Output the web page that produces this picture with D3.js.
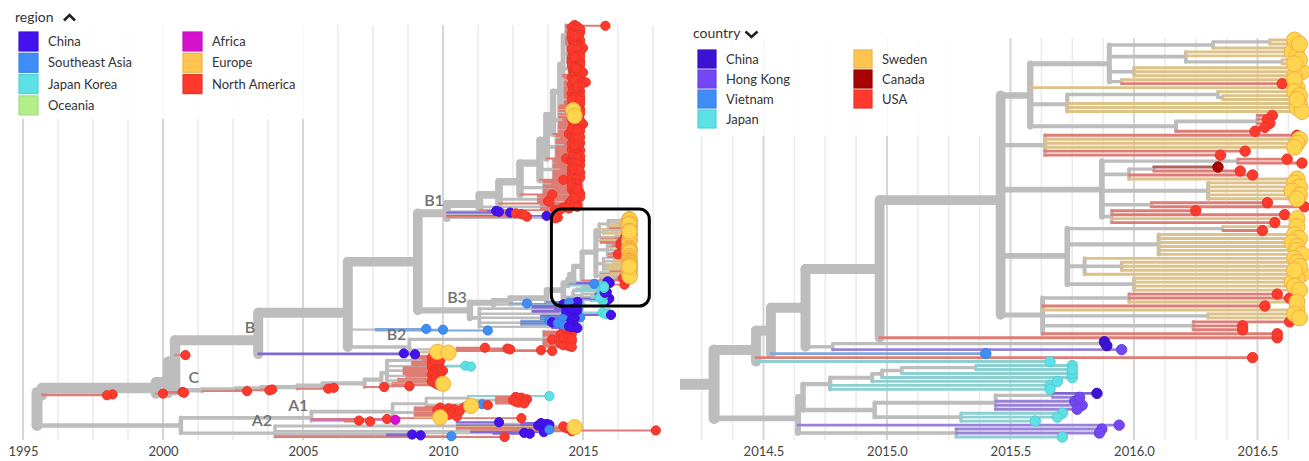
<!DOCTYPE html>
<html>
<head>
<meta charset="utf-8">
<title>Phylogeny by region / country</title>
<script src="https://cdn.jsdelivr.net/npm/d3@7/dist/d3.min.js"></script>
<style>
  html, body { margin: 0; padding: 0; background: #fff; }
  svg { display: block; font-family: Lato, "Open Sans", sans-serif; }
</style>
</head>
<body>
<div id="chart"></div>
<script>
// ---------- data ----------
const leftTicks = [1995, 2000, 2005, 2010, 2015];
const rightTicks = [2014.5, 2015.0, 2015.5, 2016.0, 2016.5];

const regions = ["China", "Southeast Asia", "Japan Korea", "Oceania", "Africa", "Europe", "North America"];
const regionColors = ["#4412EE", "#3F8EF7", "#5CE2E6", "#B2EE8A", "#D412CD", "#FFC54E", "#FF3A2D"];
const countries = ["China", "Hong Kong", "Vietnam", "Japan", "Sweden", "Canada", "USA"];
const countryColors = ["#3C12D4", "#7447F5", "#3F8EF7", "#5CE2E6", "#FFC54E", "#A80303", "#FF3A2D"];

// tip code -> [country, region]
const tipCodes = {
  C: ["China", "China"], H: ["Hong Kong", "China"], V: ["Vietnam", "Southeast Asia"],
  J: ["Japan", "Japan Korea"], S: ["Sweden", "Europe"], E: ["Europe", "Europe"],
  U: ["USA", "North America"], K: ["Canada", "North America"], A: ["Africa", "Africa"]
};
const cladeNames = ["A1", "A2", "B", "B1", "B2", "B3", "C"];

// trees written as (children)date, tips as <code><date>, [label] after a node
// --- boxed clade, shown zoomed on the right ---
const sweA1 = `((((S2016.65,S2016.67)2016.55,S2016.66)2016.32,(S2016.64,S2016.66,(S2016.67,S2016.65)2016.6)2016.21,(S2016.66,S2016.68,S2016.65)2016.0,(S2016.65,U2016.6)2015.95)2015.9,
  S2016.66,((S2016.65,(S2016.67,S2016.66)2016.36)2016.34,S2016.67,S2016.66,S2016.68)2015.73,
  ((U2016.56,U2016.54,U2016.55,U2016.53)2016.5,U2016.49)2016.17)2015.58`;
const sweA2 = `(U2016.66,S2016.67,S2016.66,S2016.65,U2016.45,U2016.35)2015.64`;
const sweA3 = `((U2016.62,U2016.68)2016.42,((K2016.34,U2016.43)2016.08,U2016.48,S2016.66)2015.98,
  (S2016.65,S2016.67,S2016.64,S2016.67,S2016.66)2016.3,(U2016.54,U2016.69)2016.07,
  (U2016.25,U2016.61,S2016.66,U2016.57)2015.91)2015.87`;
const sweA4 = `((S2016.66,U2016.52)2016.36,(S2016.65,S2016.67,S2016.64,S2016.66,S2016.66,S2016.68)2016.1,
  (S2016.65,(S2016.66,S2016.67,S2016.65)2015.95,S2016.68)2015.8,(S2016.66,S2016.64,S2016.65,S2016.67)2016.0)2015.73`;
const sweA5 = `((U2016.58,U2016.63,S2016.66)2015.98,U2016.53,S2016.66,(S2016.65,S2016.67)2016.3,(U2016.63,U2016.44,U2016.44)2016.24,U2016.58)2015.63`;
const boxUpper = `(${sweA1},${sweA2},${sweA3},${sweA4},${sweA5})2015.46`;
const boxAsia = `(((((((J2015.75,J2015.75)2015.36,J2015.75)2015.06,J2015.75)2014.98,J2015.69)2014.94,J2015.66,J2015.66)2014.77,
  (((C2015.85,H2015.78)2015.67,H2015.76,H2015.79,H2015.77)2015.44,(J2015.71,J2015.69,J2015.6)2015.3)2014.95)2014.66,
  H2015.94,(H2015.87,H2015.86,J2015.71)2015.28)2014.64`;
const boxClade = `(((((${boxUpper},U2016.58)2014.97,((C2015.88,C2015.89)2015.87,H2015.95)2014.78)2014.67,V2015.4)2014.53,U2016.48,J2015.66)2014.47,${boxAsia})2014.3[zoom]`;

// --- B1 ---
const b1Top = `((U2014.7,U2015.8,U2014.8,U2014.6,(U2014.7,U2014.9,U2014.75)2014.55,U2014.8,U2014.65,U2014.9,(U2014.7,U2014.6,U2014.8,U2014.7)2014.5,U2014.85,U2014.7,U2014.6,U2014.75,U2014.8,U2014.9,U2014.7,U2014.65,U2014.8,U2014.7,U2014.9)2014.4,
  (U2014.8,U2014.7,U2014.9,U2015.0,(U2014.6,U2014.8)2014.55,U2014.7,U2014.75,U2014.9,U2014.8,U2014.65,U2014.7,(U2014.8,U2014.9,U2014.7)2014.55,U2014.6,U2014.85,U2014.7,U2014.8,U2014.9,U2014.75,U2014.6)2014.45,
  (U2014.8,U2014.9,U2014.7,U2014.6,U2014.8,(U2014.7,U2014.75)2014.6,U2014.9,U2014.8,U2014.65,U2014.7,U2015.0,U2014.8,U2014.7)2014.5,U2014.7,U2014.8,U2014.75)2014.29`;
const b1G7 = `(U2014.6,U2014.9,(U2014.7,U2014.8,U2014.7)2014.5,U2014.75,U2015.1,U2014.8,U2014.7,U2014.6,(U2014.9,U2014.8)2014.6,U2014.7,U2014.85,U2014.65,U2014.8,U2014.7,U2014.9,U2014.75,U2014.8,U2014.6,U2014.7,U2014.8,U2014.9,U2014.65,
  U2014.7,(U2014.8,U2014.6,U2014.9)2014.55,U2014.75,U2014.8,U2014.7,U2014.9,U2014.65)2014.35`;
const b1G6 = `(U2014.7,U2014.8,U2014.6,U2014.9,E2014.65,U2014.7,(U2014.8,U2014.75,U2014.9)2014.4,U2014.6,U2014.7,E2014.7,U2014.8,U2014.85,(U2014.7,U2014.6,U2014.8,U2014.9)2014.3,U2014.75,U2014.7,U2014.8,U2015.0,U2014.65,U2014.7,U2014.9,
  U2014.8,U2014.7,(U2014.6,U2014.8)2014.45,U2014.9,U2014.7,U2014.75,U2014.8)2014.15`;
const b1G5 = `(U2014.8,U2014.6,U2014.7,(U2014.9,U2014.7,U2014.8)2014.2,U2014.75,U2014.65,U2014.8,U2014.7,U2014.9,(U2014.6,U2014.8,U2014.7)2014.35,U2014.85,U2014.75,U2014.7,U2014.8,U2014.6,U2014.9,U2014.7,U2014.8,U2014.75,
  U2014.7,U2014.8,U2014.65,U2014.9,U2014.7,U2014.8)2014.05`;
const b1G4 = `(U2014.7,U2014.9,U2014.8,U2014.6,(U2014.7,U2014.8)2014.1,U2014.75,U2014.9,U2014.65,U2014.7,U2014.8,(U2014.6,U2014.7,U2014.85)2014.2,U2014.8,U2014.7,U2014.9,U2014.6,U2014.75,U2014.8,
  U2014.8,U2014.7,U2014.9,U2014.6,U2014.75)2013.95`;
const b1G3 = `(U2014.8,U2014.6,U2014.7,(U2014.7,U2014.8,U2014.6)2013.9,U2014.75,U2014.8,U2014.7,(U2014.7,U2014.8)2014.0,U2014.6,U2014.7,U2014.85,U2014.8,U2014.7,U2014.9)2013.6`;
const b1G2 = `(U2014.7,U2014.8,(U2014.9,U2014.7)2013.9,U2014.8,U2014.75,U2014.6,U2013.75,U2013.8,U2014.7)2013.4`;
const b1G1 = `(U2014.8,U2014.7,(U2014.7,U2014.8)2014.0,U2014.3,U2014.5,U2014.2)2013.5`;
const b1Ladder = `(((((((${b1Top},${b1G7},U2014.6,U2014.7)2014.18,${b1G6},U2014.5)2013.93,${b1G5},U2014.4)2013.7,${b1G4},U2014.3)2013.46,${b1G3},U2013.9)2012.75,${b1G2},U2014.5)2012.0,${b1G1},U2014.0)2011.3`;
const cladeB1 = `(${b1Ladder},(C2011.9,C2012.0)2011.6,C2012.4,(U2012.6,U2012.8,U2012.9)2012.2,C2013.7,U2013.0,(U2014.1,U2014.0)2013.6)2010.14[B1]`;

// --- B3, B2, B ---
const b3Stairs = `(((${boxClade},C2014.8,V2014.5)2013.7,V2013.0)2012.4,(C2014.3,J2014.9)2013.2)2011.8`;
const b3Lower = `((C2014.4,C2014.5,C2014.6,(C2014.7,C2014.6,C2014.8)2014.0,C2014.5,C2014.4)2013.2,
  (J2015.7,J2015.9,J2015.8,C2016.0)2014.2,(C2014.6,C2014.5,V2014.9,C2014.7,V2014.3,C2014.6)2013.5,
  (V2013.8,V2014.0,C2013.9,V2014.1,C2014.5,V2014.3)2012.8,(C2014.7,C2014.5,C2014.6,C2014.8)2013.9)2011.3`;
const cladeB3 = `(${b3Stairs},${b3Lower})2010.96[B3]`;
const seaLine = `(V2009.4,V2010.0,V2011.6)2007.6`;
const cladeB2 = `(((U2014.3,U2014.5,U2014.4,U2014.6,U2014.2,U2014.5,(U2014.4,U2014.3,U2014.5,U2014.6)2014.0,U2013.9,U2014.4,U2014.6,U2014.3,U2014.5,U2014.2,U2014.4,U2014.3,U2014.5,U2014.6)2013.6)2012.0,
  (U2011.5,U2012.3,U2012.4,U2013.5,U2013.9)2010.5,(E2009.8,E2010.2)2009.3)2008.8[B2]`;
const cladeB = `(((${cladeB1},${cladeB3})2009.1,${seaLine},${cladeB2})2006.6,C2008.6,C2009.0)2003.4[B]`;

// --- C ---
const cCluster = `((U2009.7,U2009.8,U2009.6,U2009.9,(U2009.8,U2009.7,U2009.9)2009.3,U2009.75,U2009.6,U2009.8,U2009.7,U2009.85)2008.9,(J2010.8,J2011.0)2009.6,
  (U2009.6,U2009.8,U2009.9,U2009.7,U2010.0,U2009.8,U2009.65,U2009.75,U2009.9)2008.6,(U2009.6,U2009.8,U2009.7,(U2009.9,U2009.75)2009.5)2008.7,
  (U2009.7,(U2009.9,U2009.8)2009.4,U2009.6,U2009.85)2008.4,(U2009.7,E2010.0,U2009.8,U2009.9)2008.2)2008.0`;
const cladeC = `(((((((${cCluster},U2008.8)2007.8,U2007.9)2007.2,U2006.1)2005.7,U2005.9)2004.8,U2003.9)2003.5,U2003.8)2002.6,U2003.0)2001.4[C]`;
const rootUpper = `((((${cladeB},U2000.8,${cladeC})2000.43,U2000.7,U2000.75)2000.18,U2000.0)1999.75,U1998.2,U1998.0)1995.68`;

// --- A ---
const cladeA1 = `((((J2013.8,(U2012.6,U2012.8,U2012.7,U2013.0,U2012.5,U2012.9,U2012.6,U2012.7,U2012.9)2011.9)2010.9,(V2011.4,U2011.6)2010.6,E2011.0,U2010.8)2009.4,
  (U2009.9,U2010.2,U2010.4,U2009.8,(U2010.6,U2010.0)2009.7,U2010.3,U2009.9,U2010.1,U2010.2,U2009.9,U2010.5,E2009.9)2009.0,U2012.8)2008.2,
  U2008.0,A2008.3,(U2007.0,U2007.4)2006.5)2005.3[A1]`;
const cladeA2 = `((C2012.0,(C2013.5,C2013.7,C2013.8)2012.8,C2013.4,U2014.3,E2014.7,U2014.4,U2014.5)2010.5,((V2013.8,U2017.6)2012.5,U2014.6,C2013.6)2011.0,
  (C2012.9,C2013.1)2011.8,(C2008.9,C2009.2)2008.0,V2010.3,U2012.2)2004.0[A2]`;
const treeNewick = `(${rootUpper},(${cladeA1},${cladeA2})2000.64)1995.5`;

// ---------- helpers ----------
function parseTree(str) {
  const s = str.replace(/\s+/g, "");
  let i = 0;
  const readNum = () => {
    const m = s.slice(i).match(/^\d+(\.\d+)?/);
    i += m[0].length;
    return +m[0];
  };
  const readNode = () => {
    let node;
    if (s[i] === "(") {
      i++;
      const children = [readNode()];
      while (s[i] === ",") { i++; children.push(readNode()); }
      i++; // ")"
      node = {date: readNum(), children: children};
      if (s[i] === "[") {
        const j = s.indexOf("]", i);
        node.label = s.slice(i + 1, j);
        i = j + 1;
      }
    } else {
      const code = s[i++];
      node = {code: code, date: readNum()};
    }
    return node;
  };
  return readNode();
}

function layoutTree(data, xScale, yRange, stemDate) {
  const root = d3.hierarchy(data).count();
  const leaves = root.leaves();
  const yScale = d3.scaleLinear().domain([0, leaves.length - 1]).range(yRange);
  leaves.forEach((d, i) => { d.y = yScale(i); });
  // internal nodes sit at the mean of their children
  root.eachAfter(d => { if (d.children) d.y = d3.mean(d.children, c => c.y); });
  root.each(d => {
    d.x = xScale(d.data.date);
    d.px = xScale(d.parent ? d.parent.data.date : stemDate);
  });
  return root;
}

function drawGrid(g, xScale, values, isMajor, y0, y1) {
  g.selectAll("line").data(values).join("line")
    .attr("x1", d => xScale(d)).attr("x2", d => xScale(d))
    .attr("y1", y0).attr("y2", y1)
    .attr("stroke", d => isMajor(d) ? "#D6D6D6" : "#EAEAEA")
    .attr("stroke-width", d => isMajor(d) ? 2 : 1.5);
}

function drawTree(g, root, o) {
  const total = root.value;
  const width = d => o.wMin + o.wScale * Math.sqrt(d.value / total);
  const nodes = root.descendants();
  const inner = nodes.filter(d => d.children);
  const tips = nodes.filter(d => !d.children);
  const colourOf = d => o.colors[o.names.indexOf(tipCodes[d.data.code][o.key])];
  const isBig = d => o.bigNames.includes(tipCodes[d.data.code][o.key]);

  g.append("g").selectAll("path").data(inner).join("path")
    .attr("d", d => `M${d.px},${d.y}H${d.x}M${d.x},${d.children[0].y}V${d.children[d.children.length - 1].y}`)
    .attr("fill", "none")
    .attr("stroke", "#BDBDBD")
    .attr("stroke-width", width)
    .attr("stroke-linecap", "round");

  g.append("g").selectAll("path").data(tips).join("path")
    .attr("d", d => `M${d.px},${d.y}H${d.x}`)
    .attr("fill", "none")
    .attr("stroke", d => d3.interpolateRgb(colourOf(d), "#BDBDBD")(0.5))
    .attr("stroke-width", width)
    .attr("stroke-linecap", "round");

  const sorted = tips.slice().sort((a, b) => isBig(a) - isBig(b));
  g.append("g").selectAll("circle").data(sorted).join("circle")
    .attr("cx", d => d.x)
    .attr("cy", d => d.y)
    .attr("r", d => isBig(d) ? o.rBig : o.r)
    .attr("fill", d => isBig(d) ? "#FFD54F" : colourOf(d))
    .attr("stroke", d => isBig(d) ? "#F2AE3E" : d3.rgb(colourOf(d)).darker(0.3))
    .attr("stroke-width", 1);

  if (o.labels) {
    g.append("g").selectAll("text")
      .data(nodes.filter(d => cladeNames.includes(d.data.label)))
      .join("text")
      .attr("x", d => d.x - 3)
      .attr("y", d => d.y - 7)
      .attr("text-anchor", "end")
      .attr("font-size", 16)
      .attr("font-weight", 600)
      .attr("fill", "#717171")
      .text(d => d.data.label);
  }
}

function drawLegend(g, o) {
  g.append("text").attr("x", o.titleX).attr("y", o.titleY)
    .attr("font-size", 14).attr("fill", "#333").text(o.title);
  g.append("path").attr("d", o.chevron)
    .attr("fill", "none").attr("stroke", "#222").attr("stroke-width", 2.6);
  const items = g.selectAll(".item").data(o.names).join("g")
    .attr("class", "item")
    .attr("transform", (d, i) => `translate(${o.x0 + (i < 4 ? 0 : o.colGap)},${o.y0 + (i % 4) * o.step})`);
  items.append("rect")
    .attr("width", o.size).attr("height", o.size)
    .attr("fill", (d, i) => o.colors[i])
    .attr("stroke", (d, i) => d3.rgb(o.colors[i]).darker(0.25))
    .attr("stroke-width", 1.2);
  items.append("text")
    .attr("x", o.textDx).attr("y", o.size / 2).attr("dy", "0.36em")
    .attr("font-size", 13).attr("fill", "#333")
    .text(d => d);
}

// ---------- chart ----------
const svg = d3.select("#chart").append("svg").attr("width", 1309).attr("height", 461);

const leftX = d3.scaleLinear().domain([1995, 2015]).range([23, 583]);
const rightX = d3.scaleLinear().domain([2014.5, 2016.5]).range([763.5, 1257.5]);

const leftRoot = layoutTree(parseTree(treeNewick), leftX, [25, 437], 1995.5);
const boxNode = leftRoot.descendants().find(d => d.data.label === "zoom");
const rightRoot = layoutTree(boxNode.data, rightX, [40, 437], boxNode.parent.data.date);

// grids
drawGrid(svg.append("g"), leftX, d3.range(1995, 2017.6, 1.25),
  v => Math.abs((v - 1995) % 5) < 1e-6, 25, 440);
drawGrid(svg.append("g"), rightX, d3.range(2014.25, 2016.8, 0.125),
  v => Math.abs(v * 2 - Math.round(v * 2)) < 1e-6, 38, 440);

// legend backgrounds soften the grid
svg.append("rect").attr("x", 8).attr("y", 0).attr("width", 300).attr("height", 119)
  .attr("fill", "#fff").attr("opacity", 0.85);
svg.append("rect").attr("x", 688).attr("y", 20).attr("width", 300).attr("height", 116)
  .attr("fill", "#fff").attr("opacity", 0.85);

// axes
const styleAxis = g => {
  g.select(".domain").remove();
  g.selectAll("text").attr("font-size", 13).attr("fill", "#444").attr("font-family", "Lato, sans-serif");
};
svg.append("g").attr("transform", "translate(0,441)")
  .call(d3.axisBottom(leftX).tickValues(leftTicks).tickSize(0).tickPadding(6).tickFormat(d3.format("d")))
  .call(styleAxis);
svg.append("g").attr("transform", "translate(0,441)")
  .call(d3.axisBottom(rightX).tickValues(rightTicks).tickSize(0).tickPadding(6).tickFormat(d3.format(".1f")))
  .call(styleAxis);

// left tree, coloured by region
drawTree(svg.append("g"), leftRoot, {
  key: 1, names: regions, colors: regionColors, bigNames: ["Europe"],
  wMin: 1.5, wScale: 9.5, r: 4.6, rBig: 7.6, labels: true
});

// box around the zoomed clade
const boxTips = boxNode.leaves();
const boxY0 = d3.min(boxTips, d => d.y) - 10;
const boxY1 = d3.max(boxTips, d => d.y) + 5;
const boxX1 = d3.max(boxTips, d => d.x) + 19;
svg.append("rect")
  .attr("x", boxNode.x - 12).attr("y", boxY0)
  .attr("width", boxX1 - boxNode.x + 12).attr("height", boxY1 - boxY0)
  .attr("rx", 10).attr("fill", "none").attr("stroke", "#000").attr("stroke-width", 3);

// right tree, coloured by country
svg.append("clipPath").attr("id", "rightClip")
  .append("rect").attr("x", 680).attr("y", 0).attr("width", 629).attr("height", 461);
drawTree(svg.append("g").attr("clip-path", "url(#rightClip)"), rightRoot, {
  key: 0, names: countries, colors: countryColors, bigNames: ["Sweden"],
  wMin: 2, wScale: 9, r: 5.2, rBig: 8, labels: false
});

// legends
drawLegend(svg.append("g"), {
  title: "region", titleX: 15, titleY: 22, chevron: "M64,20.5L69.5,15L75,20.5",
  names: regions, colors: regionColors,
  x0: 19, y0: 32, size: 19, step: 21.3, colGap: 164, textDx: 29
});
drawLegend(svg.append("g"), {
  title: "country", titleX: 693, titleY: 38, chevron: "M745.5,31.5L751.5,37L757.5,31.5",
  names: countries, colors: countryColors,
  x0: 698, y0: 50, size: 18, step: 20, colGap: 156, textDx: 28
});
</script>
</body>
</html>
